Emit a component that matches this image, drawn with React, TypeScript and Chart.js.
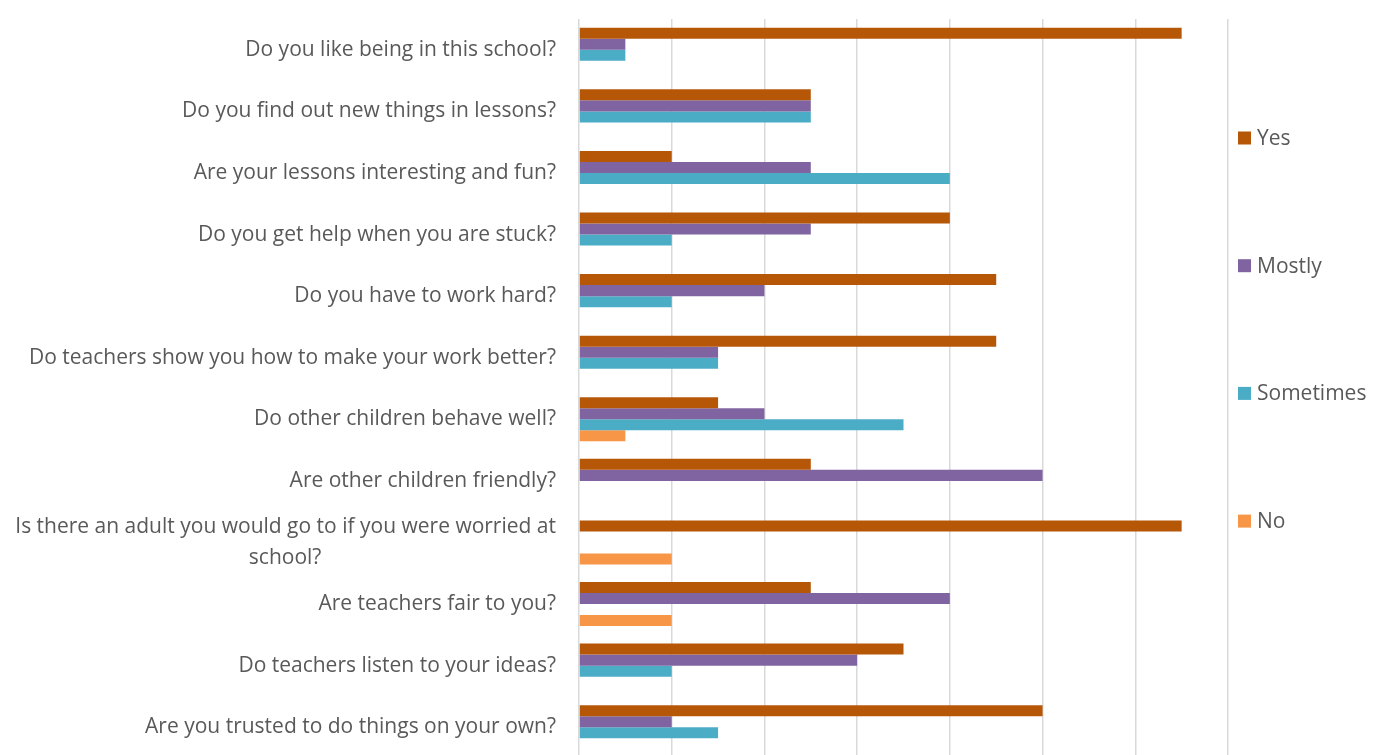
import React, { useEffect, useRef } from "react";
import { Chart, registerables } from "chart.js";

Chart.register(...registerables);

const categories: string[][] = [
  ["Do you like being in this school?"],
  ["Do you find out new things in lessons?"],
  ["Are your lessons interesting and fun?"],
  ["Do you get help when you are stuck?"],
  ["Do you have to work hard?"],
  ["Do teachers show you how to make your work better?"],
  ["Do other children behave well?"],
  ["Are other children friendly?"],
  ["Is there an adult you would go to if you were worried at", "school?"],
  ["Are teachers fair to you?"],
  ["Do teachers listen to your ideas?"],
  ["Are you trusted to do things on your own?"],
];

const seriesNames = ["Yes", "Mostly", "Sometimes", "No"];
const seriesColors = ["#B65708", "#8064A2", "#4BACC6", "#F79646"];

const yesValues = [13, 5, 2, 8, 9, 9, 3, 5, 13, 5, 7, 10];
const mostlyValues = [1, 5, 5, 5, 4, 3, 4, 10, 0, 8, 6, 2];
const sometimesValues = [1, 5, 8, 2, 2, 3, 7, 0, 0, 0, 2, 3];
const noValues = [0, 0, 0, 0, 0, 0, 1, 0, 2, 2, 0, 0];

const axisMin = 0;
const axisMax = 14;
const axisStep = 2;

const FONT_FAMILY = "'Open Sans', 'DejaVu Sans', sans-serif";
const FONT_SIZE = 21;
const TEXT_COLOR = "#595959";

function centerLines(lines: string[]): string[] {
  if (lines.length < 2) return lines;
  const c = document.createElement("canvas").getContext("2d");
  if (!c) return lines;
  c.font = `${FONT_SIZE}px ${FONT_FAMILY}`;
  const widths = lines.map((l) => c.measureText(l).width);
  const maxW = Math.max(...widths);
  const sp = c.measureText(" ").width || 5;
  return lines.map((l, i) => {
    const n = Math.round((maxW - widths[i]) / 2 / sp);
    return l + " ".repeat(n);
  });
}

const legendPlugin = {
  id: "sideLegend",
  afterDraw(chart: any) {
    const { ctx, chartArea } = chart;
    ctx.save();
    ctx.font = `${FONT_SIZE}px ${FONT_FAMILY}`;
    ctx.textBaseline = "middle";
    ctx.textAlign = "left";
    const x0 = chartArea.right + 10;
    const startY = chartArea.top + 119;
    const gap = 127.7;
    chart.data.datasets.forEach((ds: any, i: number) => {
      const y = startY + i * gap;
      ctx.fillStyle = ds.backgroundColor;
      ctx.fillRect(x0, y - 6.5, 13, 13);
      ctx.fillStyle = TEXT_COLOR;
      ctx.fillText(ds.label, x0 + 19, y + 1);
    });
    ctx.restore();
  },
};

export default function App() {
  const canvasRef = useRef<HTMLCanvasElement | null>(null);

  useEffect(() => {
    if (!canvasRef.current) return;
    const valueSets = [yesValues, mostlyValues, sometimesValues, noValues];
    const chart = new Chart(canvasRef.current, {
      type: "bar",
      data: {
        labels: categories.map((c) => centerLines(c)),
        datasets: seriesNames.map((name, i) => ({
          label: name,
          data: valueSets[i],
          backgroundColor: seriesColors[i],
          borderWidth: 0,
          categoryPercentage: 0.715,
          barPercentage: 1.0,
        })),
      },
      options: {
        indexAxis: "y",
        animation: false,
        responsive: false,
        devicePixelRatio: 1,
        layout: { padding: { top: 19, bottom: 12, left: 0, right: 161 } },
        plugins: {
          legend: { display: false },
          tooltip: { enabled: false },
        },
        scales: {
          x: {
            min: axisMin,
            max: axisMax,
            ticks: { display: false, stepSize: axisStep },
            grid: { color: "#D9D9D9", lineWidth: 1.5, drawTicks: false },
            border: { display: false },
            afterFit: (scale: any) => {
              scale.paddingLeft = 0;
              scale.paddingRight = 0;
            },
          },
          y: {
            afterFit: (scale: any) => {
              scale.width = 579;
              scale.paddingTop = 0;
              scale.paddingBottom = 0;
            },
            ticks: {
              autoSkip: false,
              padding: 23,
              color: TEXT_COLOR,
              font: { family: FONT_FAMILY, size: FONT_SIZE, lineHeight: 1.45 },
            },
            grid: { display: false, drawTicks: false },
            border: { display: false },
          },
        },
      },
      plugins: [legendPlugin],
    } as any);
    return () => chart.destroy();
  }, []);

  return (
    <div
      style={{
        position: "fixed",
        left: 0,
        top: 0,
        width: 1389,
        height: 755,
        overflow: "hidden",
        background: "#ffffff",
      }}
    >
      <canvas ref={canvasRef} width={1389} height={770} />
    </div>
  );
}
